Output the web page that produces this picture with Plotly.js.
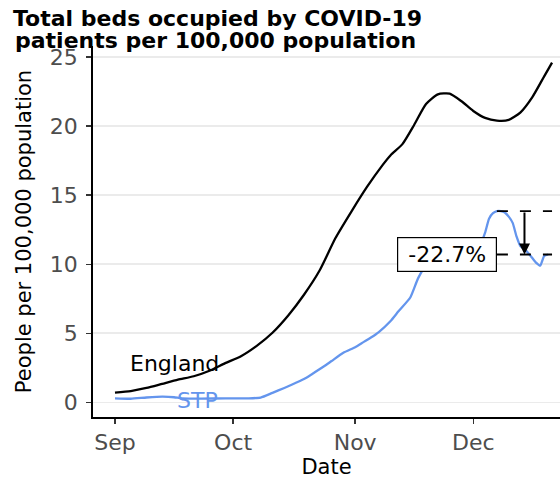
<!DOCTYPE html>
<html>
<head>
<meta charset="utf-8">
<script src="https://cdn.plot.ly/plotly-3.0.1.min.js"></script>
<style>html,body{margin:0;padding:0;background:#fff;overflow:hidden;}</style>
</head>
<body>
<div id="chart" style="width:560px;height:479px;"></div>
<script>
// ---- data ----
const englandDates = ['2020-09-01','2020-09-05','2020-09-09','2020-09-13','2020-09-17','2020-09-21','2020-09-25','2020-09-29',
  '2020-10-03','2020-10-07','2020-10-11','2020-10-15','2020-10-19','2020-10-23','2020-10-27','2020-10-31',
  '2020-11-04','2020-11-08','2020-11-10','2020-11-13','2020-11-16','2020-11-19','2020-11-22','2020-11-25','2020-11-28',
  '2020-12-01','2020-12-04','2020-12-07','2020-12-10','2020-12-13','2020-12-16','2020-12-19','2020-12-21'];
const englandValues = [0.72,0.83,1.05,1.35,1.65,1.9,2.3,2.85,
  3.35,4.1,5.05,6.3,7.8,9.57,11.9,13.8,
  15.6,17.2,17.9,18.7,20.1,21.6,22.3,22.35,21.8,
  21.1,20.6,20.4,20.45,21.0,22.1,23.6,24.6];

const stpDates = ['2020-09-01','2020-09-05','2020-09-09','2020-09-13','2020-09-16','2020-09-18','2020-09-23','2020-09-29',
  '2020-10-05','2020-10-08','2020-10-11','2020-10-14','2020-10-16','2020-10-19','2020-10-21','2020-10-24','2020-10-26','2020-10-29',
  '2020-11-01','2020-11-03','2020-11-05','2020-11-07','2020-11-10','2020-11-12','2020-11-15','2020-11-17','2020-11-19',
  '2020-11-22','2020-11-25','2020-11-28','2020-12-01','2020-12-03','2020-12-04','2020-12-05','2020-12-06','2020-12-07',
  '2020-12-08','2020-12-09','2020-12-10','2020-12-11','2020-12-12','2020-12-13','2020-12-14','2020-12-15','2020-12-16',
  '2020-12-17','2020-12-18','2020-12-19','2020-12-20'];
const stpValues = [0.3,0.27,0.36,0.42,0.38,0.3,0.28,0.3,
  0.3,0.36,0.7,1.05,1.3,1.7,2.05,2.6,3.0,3.6,
  4.0,4.35,4.7,5.1,5.9,6.6,7.6,9.0,9.9,
  10.4,10.8,11.0,11.2,11.6,12.3,13.3,13.7,13.85,
  13.85,13.75,13.45,13.0,12.0,11.3,11.1,10.8,10.45,
  10.1,9.9,10.6,10.71];

const seriesLabels = ['England','STP'];
const labelDates = ['2020-09-16','2020-09-22'];
const labelValues = [2.82, 0.14];

const peakDate = '2020-12-07';
const endDate = '2020-12-21';
const arrowDate = '2020-12-14';
const peakValue = 13.85;
const lastValue = 10.71;
const changeLabel = '-22.7%';

const monthTicks = ['2020-09-01','2020-10-01','2020-11-01','2020-12-01'];
const monthLabels = ['Sep','Oct','Nov','Dec'];
const yTicks = [0,5,10,15,20,25];

const titleLine1 = 'Total beds occupied by COVID-19';
const titleLine2 = 'patients per 100,000 population';

// ---- styles ----
const BLUE = '#6495ED';
const FONT = 'DejaVu Sans, sans-serif';

const traces = [
  {x: englandDates, y: englandValues, mode: 'lines', name: 'England',
   line: {color: '#000000', width: 2.3, shape: 'spline', smoothing: 0.6}, hoverinfo: 'skip'},
  {x: stpDates, y: stpValues, mode: 'lines', name: 'STP',
   line: {color: BLUE, width: 2.3, shape: 'spline', smoothing: 0.5}, hoverinfo: 'skip'},
  {x: [peakDate, endDate], y: [peakValue, peakValue], mode: 'lines',
   line: {color: '#000000', width: 1.8, dash: '11px,12px'}, hoverinfo: 'skip'},
  {x: [peakDate, endDate], y: [lastValue, lastValue], mode: 'lines',
   line: {color: '#000000', width: 1.8, dash: '11px,12px'}, hoverinfo: 'skip'}
];

const annotations = [
  {x: labelDates[0], y: labelValues[0], xref: 'x', yref: 'y', text: seriesLabels[0], showarrow: false,
   xanchor: 'center', yanchor: 'middle', font: {family: FONT, size: 22, color: '#000000'}},
  {x: labelDates[1], y: labelValues[1], xref: 'x', yref: 'y', text: seriesLabels[1], showarrow: false,
   xanchor: 'center', yanchor: 'middle', font: {family: FONT, size: 22, color: BLUE}},
  {x: arrowDate, y: lastValue, ax: arrowDate, ay: peakValue, xref: 'x', yref: 'y', axref: 'x', ayref: 'y',
   text: '', showarrow: true, arrowhead: 2, arrowsize: 1.1, arrowwidth: 2, arrowcolor: '#000000', standoff: 0, startstandoff: 0},
  {x: peakDate, y: lastValue, xref: 'x', yref: 'y', text: changeLabel, showarrow: false,
   xanchor: 'right', yanchor: 'middle', bgcolor: '#ffffff', bordercolor: '#000000', borderwidth: 1.2, borderpad: 1,
   width: 96, height: 31, align: 'center', valign: 'middle',
   font: {family: FONT, size: 22, color: '#000000'}},
  {x: -0.171, y: 1.0148, xref: 'paper', yref: 'paper', text: '<b>' + titleLine2 + '</b>', showarrow: false,
   xanchor: 'left', yanchor: 'middle', font: {family: FONT, size: 22, color: '#000000'}}
];

const layout = {
  width: 560, height: 479,
  margin: {l: 93, r: 0, t: 46, b: 62, pad: 0},
  paper_bgcolor: '#ffffff', plot_bgcolor: '#ffffff',
  showlegend: false,
  title: {text: '<b>' + titleLine1 + '</b>', x: 13/560, xanchor: 'left', xref: 'container',
          y: 1 - 18/479, yanchor: 'middle', yref: 'container',
          font: {family: FONT, size: 22, color: '#000000'}},
  xaxis: {
    type: 'date', range: ['2020-08-26 10:00', '2020-12-23 00:30'],
    tickvals: monthTicks, ticktext: monthLabels,
    showgrid: false, zeroline: false,
    showline: true, linecolor: '#000000', linewidth: 1.8,
    ticks: 'outside', ticklen: 5, tickwidth: 1.5, tickcolor: '#333333',
    tickfont: {family: FONT, size: 22, color: '#4D4D4D'},
    title: {text: 'Date', font: {family: FONT, size: 21, color: '#000000'}, standoff: 8}
  },
  yaxis: {
    range: [-1.05, 25.8],
    tickvals: yTicks,
    showgrid: true, gridcolor: '#EBEBEB', gridwidth: 1.8,
    zeroline: false,
    showline: true, linecolor: '#000000', linewidth: 1.8,
    ticks: 'outside', ticklen: 5, tickwidth: 1.5, tickcolor: '#333333',
    ticklabelstandoff: 4,
    tickfont: {family: FONT, size: 22, color: '#4D4D4D'},
    title: {text: 'People per 100,000 population', font: {family: FONT, size: 21, color: '#000000'}, standoff: 12}
  },
  annotations: annotations
};

Plotly.newPlot('chart', traces, layout, {staticPlot: true, displayModeBar: false});
</script>
</body>
</html>
